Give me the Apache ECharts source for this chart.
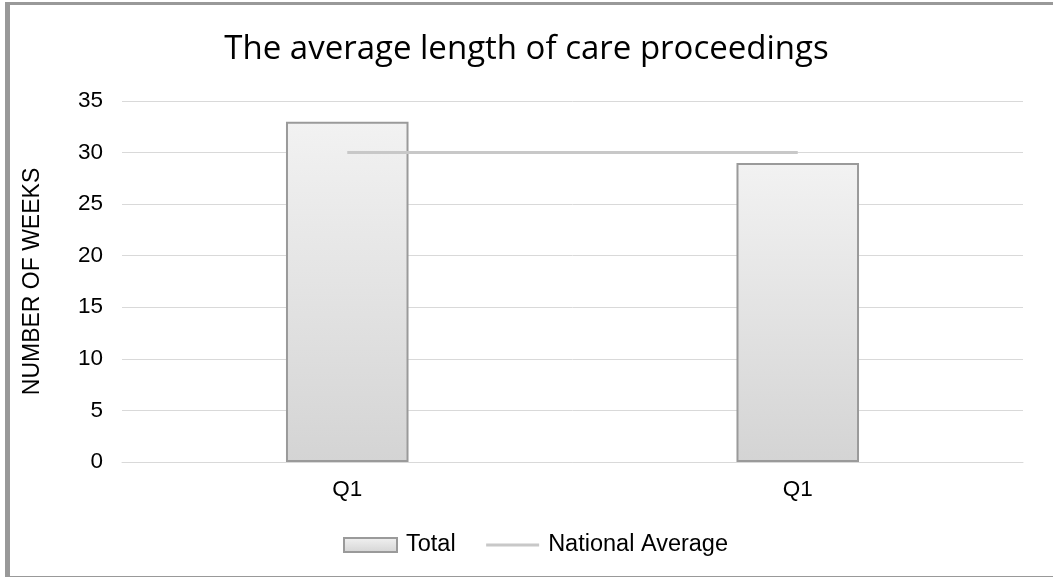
<!DOCTYPE html>
<html><head><meta charset="utf-8">
<script src="https://cdn.jsdelivr.net/npm/echarts@6/dist/echarts.min.js"></script>
<style>
html,body{margin:0;padding:0;background:#fff;}
#frame{position:absolute;left:5px;top:2px;width:1044px;height:571px;border-left:5px solid #999;border-top:3px solid #999;border-right:3px solid #999;border-bottom:2px solid #999;box-sizing:content-box;}
#chart{position:absolute;left:0;top:0;width:1053px;height:577px;}
</style></head>
<body>
<div id="frame"></div>
<div id="chart"></div>
<script>
const categories = ['Q1', 'Q1'];
const totalValues = [33, 29];
const nationalAverage = [30, 30];
const yTicks = { min: 0, max: 35, interval: 5 };

const chart = echarts.init(document.getElementById('chart'), null, { renderer: 'canvas' });
chart.setOption({
  animation: false,
  backgroundColor: 'transparent',
  title: {
    text: 'The average length of care proceedings',
    left: 'center', top: 28,
    textStyle: { fontFamily: 'Open Sans', fontSize: 33, fontWeight: 'normal', color: '#000' }
  },
  grid: { left: 122, right: 30, top: 101, bottom: 115, containLabel: false },
  legend: {
    top: 528, left: 338,
    itemGap: 29, itemWidth: 53, itemHeight: 14,
    textStyle: { fontFamily: 'Liberation Sans', fontSize: 23.5, color: '#000', padding: [0, 0, 0, 4] },
    data: [
      { name: 'Total', icon: 'rect' },
      { name: 'National Average', itemStyle: { opacity: 0 }, lineStyle: { width: 3, color: '#c8c8c8' } }
    ]
  },
  xAxis: {
    type: 'category', data: categories,
    axisLine: { lineStyle: { color: '#d9d9d9', width: 1 } },
    axisTick: { show: false },
    axisLabel: { fontFamily: 'Liberation Sans', fontSize: 22.5, color: '#000', margin: 16 }
  },
  yAxis: {
    type: 'value', min: yTicks.min, max: yTicks.max, interval: yTicks.interval,
    name: 'NUMBER OF WEEKS', nameLocation: 'middle', nameGap: 78, nameRotate: 90,
    nameTextStyle: { fontFamily: 'Liberation Sans', fontSize: 23, color: '#000' },
    axisLine: { show: false }, axisTick: { show: false },
    axisLabel: { fontFamily: 'Liberation Sans', fontSize: 22.5, color: '#000', margin: 19 },
    splitLine: { lineStyle: { color: '#d9d9d9', width: 1 } }
  },
  series: [
    {
      name: 'Total', type: 'bar', data: totalValues, barWidth: '27.2%',
      itemStyle: {
        color: new echarts.graphic.LinearGradient(0, 0, 0, 1, [
          { offset: 0, color: '#f2f2f2' }, { offset: 1, color: '#d4d4d4' }
        ]),
        borderColor: '#9a9a9a', borderWidth: 2
      }
    },
    {
      name: 'National Average', type: 'line', data: nationalAverage,
      symbol: 'none', lineStyle: { color: '#c8c8c8', width: 3 }, itemStyle: { color: '#c8c8c8' }
    }
  ]
});
</script>
</body></html>
